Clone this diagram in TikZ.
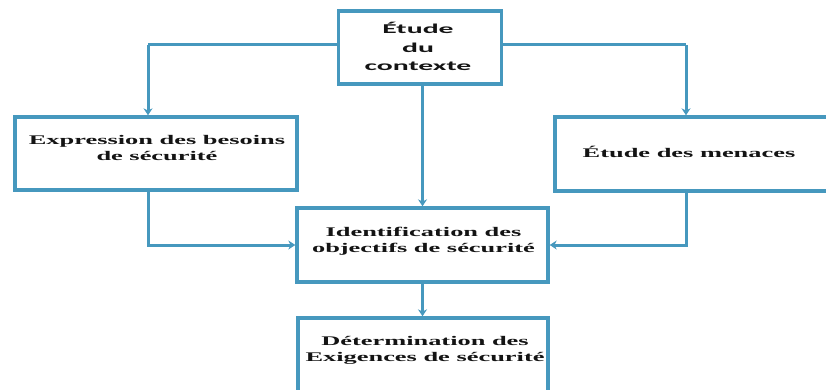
\documentclass[tikz,border=0pt]{standalone}
\usepackage{fontspec}
\setmainfont{Liberation Serif}
\newfontfamily\calib{Carlito}[BoldFont={Carlito Bold}]
\usetikzlibrary{arrows.meta}
\definecolor{flow}{RGB}{70,152,190}
\definecolor{ink}{RGB}{20,20,20}
\tikzset{
  box/.style={draw=flow, line width=3.4pt, fill=white, inner sep=0pt},
  link/.style={draw=flow, line width=3pt},
  arr/.style={link, -{Stealth[length=7pt,width=9pt]}},
  lbl/.style={text=ink, align=center, inner sep=0pt, xscale=2.0,
    font=\fontsize{13.2}{16.5}\selectfont\bfseries},
  toplbl/.style={text=ink, align=center, inner sep=0pt, xscale=2.2,
    font=\calib\bfseries\fontsize{13.5}{18.5}\selectfont},
}
\begin{document}
\begin{tikzpicture}[x=1pt, y=-1pt]
  \useasboundingbox (0,0) rectangle (826,390);
  % boxes
  \node[box, minimum width=163pt, minimum height=73pt] (ctx) at (420,47.5) {};
  \node[box, minimum width=282pt, minimum height=73pt] (needs) at (156,153.5) {};
  \node[box, minimum width=275pt, minimum height=74pt] (threat) at (692.5,154) {};
  \node[box, minimum width=251pt, minimum height=74pt] (goals) at (422.5,245) {};
  \node[box, minimum width=250pt, minimum height=80pt] (reqs) at (423,358) {};
  % labels
  \node[toplbl] (ctx-t) at (418,46.5) {Étude\\du\\contexte};
  \node[lbl] (needs-t) at (157,148) {Expression des besoins\\de sécurité};
  \node[lbl] (threat-t) at (689,152) {Étude des menaces};
  \node[lbl] (goals-t) at (423.5,241.5) {Identification des\\objectifs de sécurité};
  \node[lbl] (reqs-t) at (425,350.5) {Détermination des\\Exigences de sécurité};
  % connectors
  \coordinate (lt) at (148,45);
  \coordinate (rt) at (686,45);
  \draw[link] (ctx.west |- lt) -- (lt);
  \draw[arr] (lt) -- (lt |- needs.north);
  \draw[link] (ctx.east |- rt) -- (rt);
  \draw[arr] (rt) -- (rt |- threat.north);
  \draw[arr] (ctx.south -| goals.north) -- (goals.north);
  \draw[arr] (lt |- needs.south) |- (goals.west);
  \draw[arr] (rt |- threat.south) |- (goals.east);
  \draw[arr] (goals.south) -- (goals.south |- reqs.north);
\end{tikzpicture}
\end{document}
